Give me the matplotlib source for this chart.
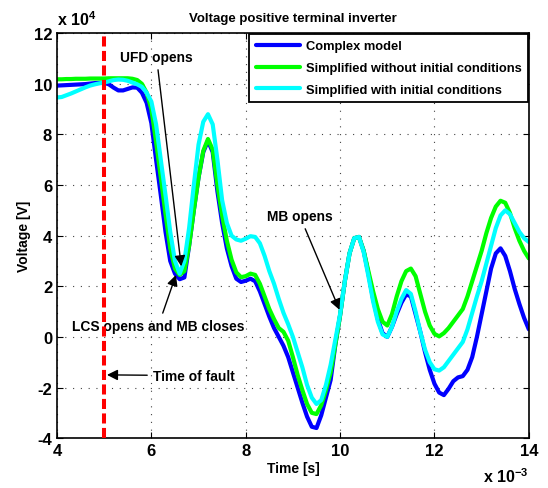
import matplotlib.pyplot as plt
import numpy as np

plt.rcParams["font.family"] = ["Liberation Sans", "DejaVu Sans"]
plt.rcParams["font.weight"] = "bold"
plt.rcParams["axes.unicode_minus"] = False
plt.rcParams["mathtext.fontset"] = "custom"
plt.rcParams["mathtext.rm"] = "Liberation Sans:bold"
plt.rcParams["mathtext.bf"] = "Liberation Sans:bold"

# time axis in units of 1e-3 s, voltage in units of 1e4 V
t = np.round(np.arange(4.0, 14.01, 0.1), 2)

v_complex = [
    9.93, 9.94, 9.95, 9.96, 9.97, 9.98, 9.99, 10.01, 10.03, 10.04,  # 4.0-4.9
    10.04, 9.98, 9.85, 9.74, 9.74, 9.80, 9.86, 9.85, 9.65, 9.25,    # 5.0-5.9
    8.45, 7.0, 5.6, 4.15, 3.0, 2.5, 2.28, 2.35, 3.6, 5.0,            # 6.0-6.9
    6.3, 7.3, 7.75, 7.3, 5.75, 4.5, 3.5, 2.8, 2.3, 2.17,             # 7.0-7.9
    2.22, 2.3, 2.2, 1.8, 1.3, 0.8, 0.35, 0.0, -0.35, -0.8,           # 8.0-8.9
    -1.4, -2.0, -2.6, -3.15, -3.55, -3.6, -3.1, -2.4, -1.7, -0.3,    # 9.0-9.9
    0.85, 2.2, 3.3, 3.9, 3.95, 3.4, 2.5, 1.5, 0.7, 0.15,             # 10.0-10.9
    0.0, 0.4, 0.9, 1.35, 1.68, 1.6, 0.9, 0.2, -0.6, -1.3,            # 11.0-11.9
    -1.85, -2.2, -2.3, -2.05, -1.75, -1.6, -1.55, -1.3, -0.8, 0.0,   # 12.0-12.9
    0.9, 1.8, 2.7, 3.3, 3.5, 3.2, 2.6, 1.9, 1.3, 0.75,               # 13.0-13.9
    0.3,
]

v_simple = [
    10.18, 10.18, 10.19, 10.19, 10.2, 10.2, 10.2, 10.21, 10.21, 10.21,
    10.21, 10.22, 10.22, 10.22, 10.22, 10.22, 10.2, 10.15, 10.0, 9.65,
    9.0, 7.7, 6.3, 4.85, 3.5, 2.7, 2.45, 2.6, 3.6, 5.0,
    6.3, 7.35, 7.82, 7.4, 6.0, 4.8, 3.8, 3.05, 2.55, 2.36,
    2.4, 2.5, 2.45, 2.1, 1.6, 1.1, 0.7, 0.35, 0.2, -0.15,
    -0.8, -1.5, -2.1, -2.65, -3.0, -3.05, -2.7, -2.1, -1.4, -0.3,
    0.85, 2.2, 3.3, 3.9, 3.95, 3.4, 2.6, 1.8, 1.1, 0.6,
    0.45, 0.9, 1.6, 2.2, 2.6, 2.7, 2.4, 1.7, 1.0, 0.45,
    0.12, 0.02, 0.15, 0.35, 0.6, 0.85, 1.1, 1.6, 2.2, 2.8,
    3.4, 4.1, 4.7, 5.15, 5.38, 5.3, 4.9, 4.3, 3.8, 3.4,
    3.1,
]

v_initial = [
    9.46, 9.48, 9.55, 9.62, 9.7, 9.78, 9.86, 9.93, 9.98, 10.02,
    10.05, 10.1, 10.15, 10.17, 10.16, 10.12, 10.05, 9.98, 9.88, 9.65,
    9.3, 8.4, 7.0, 5.6, 4.15, 3.0, 2.5, 3.0, 4.3, 6.0,
    7.6, 8.5, 8.8, 8.4, 7.0, 5.4, 4.5, 4.0, 3.85, 3.8,
    3.88, 3.98, 3.95, 3.7, 3.2, 2.6, 2.1, 1.5, 0.95, 0.5,
    0.0, -0.6, -1.2, -1.9, -2.4, -2.65, -2.5, -1.9, -1.1, -0.1,
    0.9, 2.2, 3.3, 3.9, 3.95, 3.35, 2.4, 1.4, 0.6, 0.1,
    0.0, 0.4, 1.0, 1.5, 1.85, 1.7, 1.0, 0.2, -0.5, -1.0,
    -1.28, -1.33, -1.2, -0.95, -0.7, -0.45, -0.2, 0.3, 0.95, 1.6,
    2.2, 2.9, 3.6, 4.3, 4.8, 5.0, 4.85, 4.5, 4.15, 3.9,
    3.75,
]

labels = ["Complex model", "Simplified without initial conditions",
          "Simplified with initial conditions"]
colors = ["#0000ff", "#00ff00", "#00ffff"]
t_fault = 5.0

fig = plt.figure(figsize=(5.48, 4.89), dpi=100)
ax = fig.add_axes([0.104, 0.102, 0.861, 0.828])

for v, lab, c in zip([v_complex, v_simple, v_initial], labels, colors):
    ax.plot(t, v, color=c, lw=3.0, label=lab, solid_capstyle="round")

# red dashed marker for the fault instant, drawn over curves and text
ax.axvline(t_fault, color="red", lw=2.9, ls=(0, (2.5, 1.1)), zorder=6)

ax.set_xlim(4, 14)
ax.set_ylim(-4, 12)
ax.set_xticks(np.arange(4, 15, 2))
ax.set_yticks(np.arange(-4, 13, 2))
ax.tick_params(direction="in", top=True, right=True, labelsize=12, length=4, width=0.8)
for lab in ax.get_xticklabels() + ax.get_yticklabels():
    lab.set_fontweight("bold")
ax.grid(True, ls=(0, (1, 6)), color="#444444", lw=0.8)
for s in ax.spines.values():
    s.set_linewidth(1.2)

ax.set_title("Voltage positive terminal inverter", fontsize=9.5, fontweight="bold", pad=9)
ax.set_xlabel("Time [s]", fontsize=10, fontweight="bold", labelpad=2)
ax.set_ylabel("Voltage [V]", fontsize=10, fontweight="bold", labelpad=2)
ax.text(0.0, 1.012, r"x 10$^{4}$", transform=ax.transAxes, fontsize=11.5, fontweight="bold",
        ha="left", va="bottom")
ax.text(1.0, -0.07, r"x 10$^{-3}$", transform=ax.transAxes, fontsize=11.5, fontweight="bold",
        ha="right", va="top")

leg = ax.legend(loc="upper right", fontsize=9.3, frameon=True, fancybox=False,
                edgecolor="black", handlelength=3.4, handletextpad=0.5,
                borderaxespad=0.05, labelspacing=0.75, borderpad=0.5)
leg.get_frame().set_linewidth(1.3)
leg.get_frame().set_alpha(1)
for txt in leg.get_texts():
    txt.set_fontweight("bold")

arrow = dict(arrowstyle="-|>", color="black", lw=1.0, mutation_scale=16)
ann = dict(fontsize=9.9, fontweight="bold", ha="center", va="center", arrowprops=arrow)
ax.annotate("UFD opens", xy=(6.64, 2.68), xytext=(6.11, 11.05), **ann)
ax.annotate("LCS opens and MB closes", xy=(6.54, 2.55), xytext=(6.15, 0.45), **ann)
ax.annotate("MB opens", xy=(10.01, 0.97), xytext=(9.15, 4.76), **ann)
ax.annotate("Time of fault", xy=(5.0, -1.5), xytext=(6.03, -1.53),
            fontsize=9.9, fontweight="bold", ha="left", va="center", arrowprops=arrow)

fig.savefig("out.png", dpi=100)
